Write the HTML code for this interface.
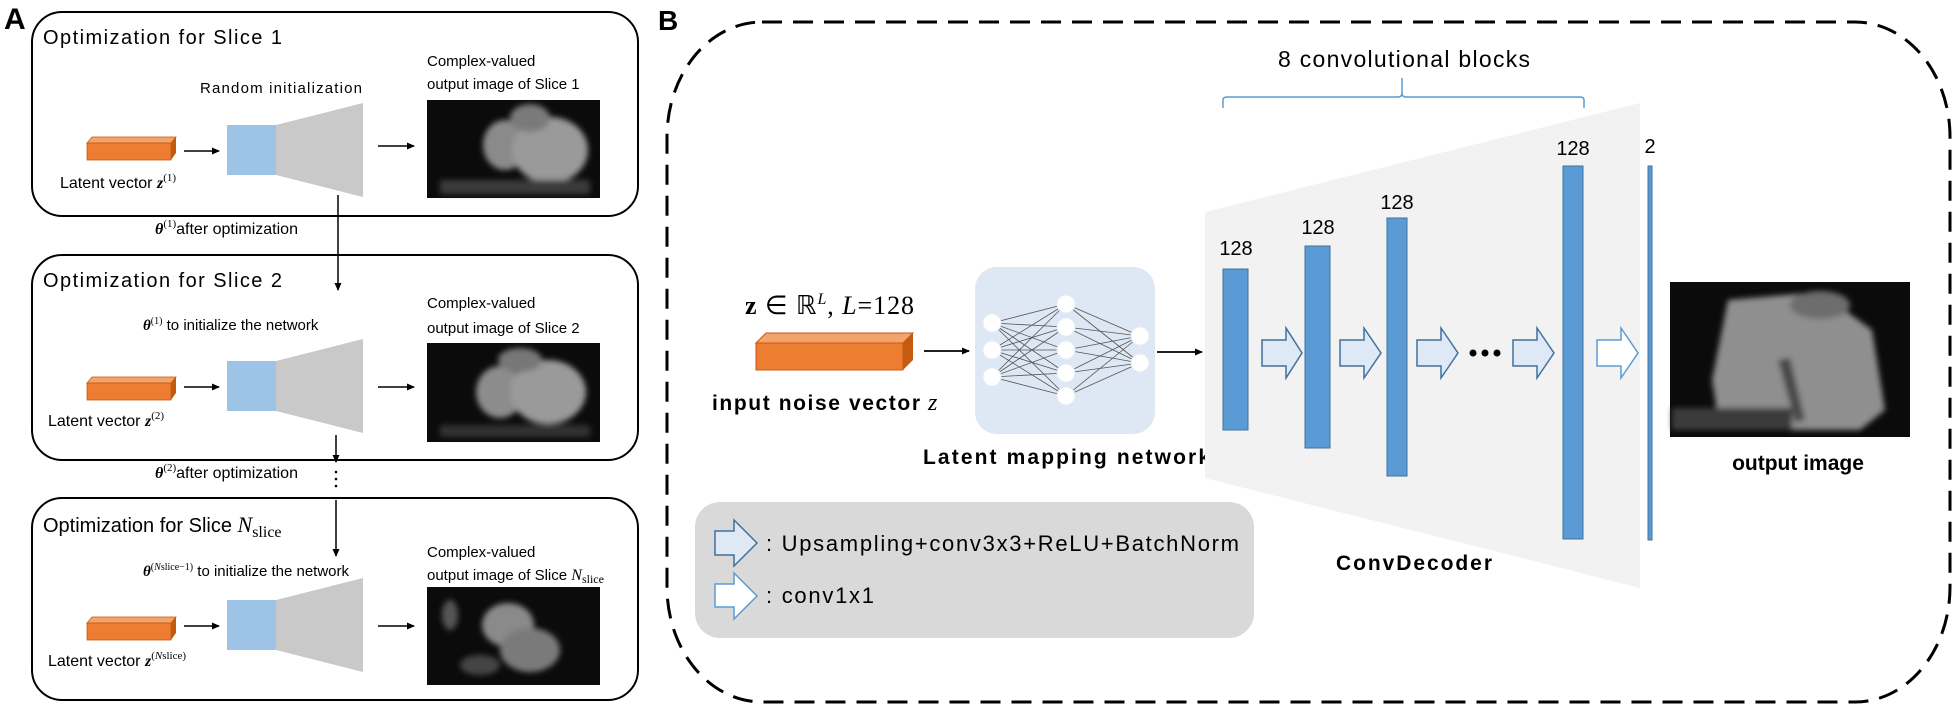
<!DOCTYPE html>
<html><head><meta charset="utf-8"><style>
html,body{margin:0;padding:0;background:#fff;width:1955px;height:709px;overflow:hidden}
svg{display:block}
text{font-family:"Liberation Sans",sans-serif;fill:#000}
.s{font-family:"Liberation Serif",serif}
</style></head><body>
<svg width="1955" height="709" viewBox="0 0 1955 709" xmlns="http://www.w3.org/2000/svg">
<defs>
<marker id="ah" markerWidth="8" markerHeight="8" refX="7" refY="4" orient="auto" markerUnits="userSpaceOnUse"><path d="M0,0.5 L8,4 L0,7.5 Z" fill="#000"/></marker>
<filter id="bl" x="-20%" y="-20%" width="140%" height="140%"><feGaussianBlur stdDeviation="3"/></filter>
<g id="orange">
<path d="M0,4 L5,-2 L89,-2 L84,4 Z" fill="#f4a46a" stroke="#c55a11" stroke-width="0.8"/>
<path d="M84,4 L89,-2 L89,14 L84,21 Z" fill="#c55a11"/>
<rect x="0" y="4" width="84" height="17" fill="#ed7d31" stroke="#c55a11" stroke-width="0.8"/>
</g>
<g id="net">
<rect x="0" y="0" width="49" height="50" fill="#9dc3e6"/>
<path d="M49,0 L136,-22 L136,72 L49,50 Z" fill="#c9c9c9"/>
</g>
</defs>

<!-- Panel A -->
<text x="4" y="29" font-size="30" font-weight="bold">A</text>

<!-- Box 1 -->
<rect x="32" y="12" width="606" height="204" rx="30" fill="none" stroke="#000" stroke-width="2"/>
<text x="43" y="44" font-size="20" textLength="239">Optimization for Slice 1</text>
<text x="200" y="93" font-size="15" textLength="162">Random initialization</text>
<use href="#orange" x="87" y="139"/>
<line x1="184" y1="151" x2="219" y2="151" stroke="#000" stroke-width="1.5" marker-end="url(#ah)"/>
<use href="#net" x="227" y="125"/>
<line x1="378" y1="146" x2="414" y2="146" stroke="#000" stroke-width="1.5" marker-end="url(#ah)"/>
<text x="60" y="188" font-size="16">Latent vector <tspan class="s" font-weight="bold" font-style="italic">z</tspan><tspan class="s" font-size="11" dy="-7">(1)</tspan></text>
<text x="427" y="66" font-size="15">Complex-valued</text>
<text x="427" y="89" font-size="15">output image of Slice 1</text>
<g>
<rect x="427" y="100" width="173" height="98" fill="#0b0b0b"/>
<g filter="url(#bl)">
<ellipse cx="505" cy="145" rx="22" ry="25" fill="#8a8a8a"/>
<ellipse cx="550" cy="150" rx="38" ry="33" fill="#9a9a9a"/>
<ellipse cx="530" cy="118" rx="20" ry="14" fill="#7a7a7a"/>
<rect x="440" y="180" width="150" height="14" fill="#3a3a3a"/>
</g></g>

<line x1="338" y1="195" x2="338" y2="290" stroke="#000" stroke-width="1.5" marker-end="url(#ah)"/>
<text x="155" y="234" font-size="16"><tspan class="s" font-weight="bold" font-style="italic">θ</tspan><tspan class="s" font-size="11" dy="-7">(1)</tspan><tspan dy="7">after optimization</tspan></text>

<!-- Box 2 -->
<rect x="32" y="255" width="606" height="205" rx="30" fill="none" stroke="#000" stroke-width="2"/>
<text x="43" y="287" font-size="20" textLength="239">Optimization for Slice 2</text>
<text x="143" y="330" font-size="15"><tspan class="s" font-weight="bold" font-style="italic">θ</tspan><tspan class="s" font-size="10" dy="-6">(1)</tspan><tspan dy="6"> to initialize the network</tspan></text>
<use href="#orange" x="87" y="379"/>
<line x1="184" y1="387" x2="219" y2="387" stroke="#000" stroke-width="1.5" marker-end="url(#ah)"/>
<use href="#net" x="227" y="361"/>
<line x1="378" y1="387" x2="414" y2="387" stroke="#000" stroke-width="1.5" marker-end="url(#ah)"/>
<text x="48" y="426" font-size="16">Latent vector <tspan class="s" font-weight="bold" font-style="italic">z</tspan><tspan class="s" font-size="11" dy="-7">(2)</tspan></text>
<text x="427" y="308" font-size="15">Complex-valued</text>
<text x="427" y="333" font-size="15">output image of Slice 2</text>
<g>
<rect x="427" y="343" width="173" height="99" fill="#0b0b0b"/>
<g filter="url(#bl)">
<ellipse cx="500" cy="392" rx="24" ry="26" fill="#8c8c8c"/>
<ellipse cx="548" cy="392" rx="38" ry="32" fill="#9a9a9a"/>
<ellipse cx="520" cy="360" rx="22" ry="12" fill="#777"/>
<rect x="440" y="425" width="150" height="12" fill="#333"/>
</g></g>

<line x1="336" y1="435" x2="336" y2="462" stroke="#000" stroke-width="1.5" marker-end="url(#ah)"/>
<circle cx="336" cy="472" r="1.3" fill="#000"/><circle cx="336" cy="479" r="1.3" fill="#000"/><circle cx="336" cy="486" r="1.3" fill="#000"/>
<text x="155" y="478" font-size="16"><tspan class="s" font-weight="bold" font-style="italic">θ</tspan><tspan class="s" font-size="11" dy="-7">(2)</tspan><tspan dy="7">after optimization</tspan></text>
<line x1="336" y1="500" x2="336" y2="556" stroke="#000" stroke-width="1.5" marker-end="url(#ah)"/>

<!-- Box 3 -->
<rect x="32" y="498" width="606" height="202" rx="30" fill="none" stroke="#000" stroke-width="2"/>
<text x="43" y="532" font-size="20">Optimization for Slice <tspan class="s" font-style="italic" font-size="22">N</tspan><tspan class="s" font-size="16" dy="5">slice</tspan></text>
<text x="143" y="576" font-size="15"><tspan class="s" font-weight="bold" font-style="italic">θ</tspan><tspan class="s" font-size="10" dy="-6">(<tspan font-style="italic">N</tspan>slice−1)</tspan><tspan dy="6"> to initialize the network</tspan></text>
<use href="#orange" x="87" y="619"/>
<line x1="184" y1="626" x2="219" y2="626" stroke="#000" stroke-width="1.5" marker-end="url(#ah)"/>
<use href="#net" x="227" y="600"/>
<line x1="378" y1="626" x2="414" y2="626" stroke="#000" stroke-width="1.5" marker-end="url(#ah)"/>
<text x="48" y="666" font-size="16">Latent vector <tspan class="s" font-weight="bold" font-style="italic">z</tspan><tspan class="s" font-size="11" dy="-7">(<tspan font-style="italic">N</tspan>slice)</tspan></text>
<text x="427" y="557" font-size="15">Complex-valued</text>
<text x="427" y="580" font-size="15">output image of Slice <tspan class="s" font-style="italic" font-size="16">N</tspan><tspan class="s" font-size="12" dy="3">slice</tspan></text>
<g>
<rect x="427" y="587" width="173" height="98" fill="#0b0b0b"/>
<g filter="url(#bl)">
<ellipse cx="508" cy="625" rx="26" ry="22" fill="#8a8a8a"/>
<ellipse cx="530" cy="650" rx="30" ry="22" fill="#7a7a7a"/>
<ellipse cx="450" cy="615" rx="8" ry="15" fill="#555"/>
<ellipse cx="480" cy="665" rx="20" ry="10" fill="#444"/>
</g></g>

<!-- Panel B -->
<text x="658" y="30" font-size="28" font-weight="bold">B</text>
<rect x="667" y="22" width="1283" height="680" rx="95" ry="115" fill="none" stroke="#000" stroke-width="3" stroke-dasharray="20 11"/>

<text class="s" x="745" y="314" font-size="26" textLength="169"><tspan font-weight="bold">z</tspan> ∈ ℝ<tspan font-size="16" dy="-10" font-style="italic">L</tspan><tspan dy="10">, </tspan><tspan font-style="italic">L</tspan>=128</text>
<g>
<path d="M756,343 L766,333 L913,333 L903,343 Z" fill="#f4a46a" stroke="#c55a11"/>
<path d="M903,343 L913,333 L913,360 L903,370 Z" fill="#c55a11"/>
<rect x="756" y="343" width="147" height="27" fill="#ed7d31" stroke="#c55a11"/>
</g>
<text x="712" y="410" font-size="21" font-weight="bold" textLength="208">input noise vector</text>
<text class="s" x="928" y="410" font-size="24" font-style="italic">z</text>
<line x1="924" y1="351" x2="969" y2="351" stroke="#000" stroke-width="1.8" marker-end="url(#ah)"/>

<rect x="975" y="267" width="180" height="167" rx="22" fill="#dee8f4"/>
<g stroke="#555" stroke-width="0.8">
<path d="M992,323L1066,304M992,323L1066,327M992,323L1066,350M992,323L1066,373M992,323L1066,396M992,350L1066,304M992,350L1066,327M992,350L1066,350M992,350L1066,373M992,350L1066,396M992,377L1066,304M992,377L1066,327M992,377L1066,350M992,377L1066,373M992,377L1066,396"/>
<path d="M1066,304L1140,336M1066,327L1140,336M1066,350L1140,336M1066,373L1140,336M1066,396L1140,336M1066,304L1140,363M1066,327L1140,363M1066,350L1140,363M1066,373L1140,363M1066,396L1140,363"/>
</g>
<g fill="#fff" stroke="#e4ecf6" stroke-width="1">
<circle cx="992" cy="323" r="9"/><circle cx="992" cy="350" r="9"/><circle cx="992" cy="377" r="9"/>
<circle cx="1066" cy="304" r="9"/><circle cx="1066" cy="327" r="9"/><circle cx="1066" cy="350" r="9"/><circle cx="1066" cy="373" r="9"/><circle cx="1066" cy="396" r="9"/>
<circle cx="1140" cy="336" r="9"/><circle cx="1140" cy="363" r="9"/>
</g>
<text x="923" y="464" font-size="21" font-weight="bold" textLength="287">Latent mapping network</text>
<line x1="1157" y1="352" x2="1202" y2="352" stroke="#000" stroke-width="1.8" marker-end="url(#ah)"/>

<!-- Decoder -->
<path d="M1205,212 L1640,103 L1640,588 L1205,478 Z" fill="#f2f2f2"/>
<g fill="#5b9bd5" stroke="#41719c" stroke-width="1">
<rect x="1223" y="269" width="25" height="161"/>
<rect x="1305" y="246" width="25" height="202"/>
<rect x="1387" y="218" width="20" height="258"/>
<rect x="1563" y="166" width="20" height="373"/>
<rect x="1648" y="166" width="4" height="374"/>
</g>
<g font-size="20" text-anchor="middle">
<text x="1236" y="255">128</text>
<text x="1318" y="234">128</text>
<text x="1397" y="209">128</text>
<text x="1573" y="155">128</text>
<text x="1650" y="153">2</text>
</g>
<path d="M1223,108 V100 Q1223,97 1227,97 H1398 Q1402,97 1402,93 V78 M1402,93 Q1402,97 1406,97 H1580 Q1584,97 1584,100 V108" fill="none" stroke="#5b9bd5" stroke-width="1.5"/>
<text x="1278" y="67" font-size="23" textLength="252">8 convolutional blocks</text>
<g stroke="#41719c" stroke-width="1.5" fill="#dee9f5">
<path d="M1262,340 H1286 V328 L1302,353 L1286,378 V366 H1262 Z"/>
<path d="M1340,340 H1364 V328 L1381,353 L1364,378 V366 H1340 Z"/>
<path d="M1417,340 H1441 V328 L1458,353 L1441,378 V366 H1417 Z"/>
<path d="M1513,340 H1537 V328 L1554,353 L1537,378 V366 H1513 Z"/>
</g>
<path d="M1597,340 H1621 V328 L1638,353 L1621,378 V366 H1597 Z" fill="#fff" stroke="#5b9bd5" stroke-width="1.5"/>
<circle cx="1473" cy="353" r="3.5" fill="#000"/><circle cx="1485" cy="353" r="3.5" fill="#000"/><circle cx="1497" cy="353" r="3.5" fill="#000"/>
<text x="1336" y="570" font-size="21" font-weight="bold" textLength="156">ConvDecoder</text>

<g>
<rect x="1670" y="282" width="240" height="155" fill="#0b0b0b"/>
<g filter="url(#bl)">
<path d="M1728,300 L1820,292 L1872,330 L1885,410 L1860,430 L1720,430 L1712,380 Z" fill="#8f8f8f"/>
<ellipse cx="1820" cy="305" rx="30" ry="14" fill="#6d6d6d"/>
<rect x="1672" y="408" width="120" height="22" fill="#3a3a3a"/>
<path d="M1778,360 L1790,358 L1805,420 L1795,422 Z" fill="#4a4a4a"/>
</g></g>
<text x="1798" y="470" font-size="21" font-weight="bold" text-anchor="middle">output image</text>

<!-- Legend -->
<rect x="695" y="502" width="559" height="136" rx="25" fill="#d9d9d9"/>
<path d="M715,531 H734 V520 L757,543 L734,566 V555 H715 Z" fill="#dee9f5" stroke="#41719c" stroke-width="1.5"/>
<path d="M715,584 H734 V573 L757,596 L734,619 V607 H715 Z" fill="#fff" stroke="#5b9bd5" stroke-width="1.5"/>
<text x="766" y="551" font-size="22" textLength="473">: Upsampling+conv3x3+ReLU+BatchNorm</text>
<text x="766" y="603" font-size="22" textLength="108">: conv1x1</text>
</svg>
</body></html>
